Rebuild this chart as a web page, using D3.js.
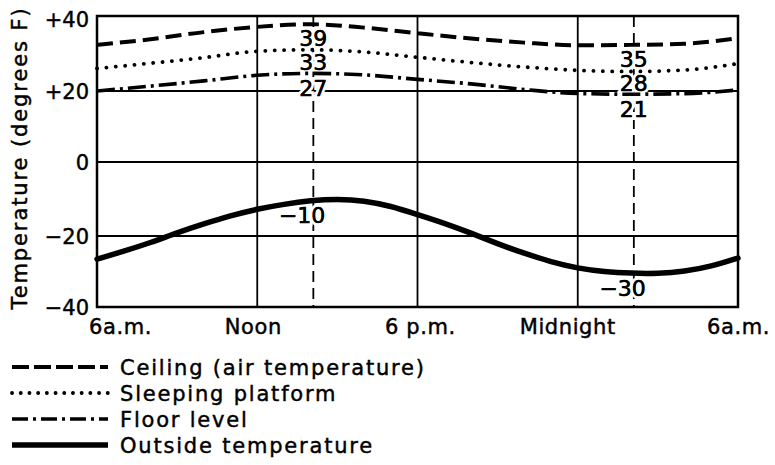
<!DOCTYPE html>
<html><head><meta charset="utf-8">
<script src="https://cdn.jsdelivr.net/npm/d3@7"></script>
<style>
body{margin:0;background:#fff}
svg{display:block}
text{font-family:"DejaVu Sans",sans-serif;fill:#000}
text.ink{stroke:#000;stroke-width:0.45px}
</style>
</head><body>
<svg id="c" width="775" height="465"></svg>
<script>
// ---- data ----
const hours2 = [0,2,4,6,8,10,12,14,16,18,20,22,24];
const ceiling = [32.3,33.8,35.7,37.1,37.8,36.9,35.4,34.0,32.9,32.2,32.3,32.6,34.1];
const sleeping = [26.0,27.4,28.9,30.6,31.0,30.4,29.0,27.6,26.4,25.5,25.2,25.6,27.3];
const floorLevel = [20.0,21.3,22.7,24.2,24.7,24.3,23.1,21.9,20.4,19.3,19.1,19.25,20.3];
const hours1 = [0,1,2,3,4,5,6,7,8,9,10,11,12,13,14,15,16,17,18,19,20,21,22,23,24];
const outside = [-26.5,-24.3,-21.9,-19.1,-16.7,-14.5,-12.7,-11.4,-10.4,-10.0,-10.4,-11.9,-14.2,-16.5,-19.2,-22.2,-24.9,-27.3,-29.1,-30.1,-30.5,-30.6,-30.0,-28.6,-26.2];
const xTicks = [0,6,12,18,24];
const xTickLabels = ["6a.m.","Noon","6 p.m.","Midnight","6a.m."];
const yTicks = [40,20,0,-20,-40];
const yTickLabels = ["+40","+20","0","\u221220","\u221240"];
const markHours = [8.1,20.1];
const markLabels = [["39","33","27","\u221210"],["35","28","21","\u221230"]];
const legendLabels = ["Ceiling (air temperature)","Sleeping platform","Floor level","Outside temperature"];
const yTitle = "Temperature (degrees F)";

// ---- drawing ----
const svg = d3.select("#c");
const x = d3.scaleLinear().domain([0,24]).range([97,738]);
const y = d3.scaleLinear().domain([-40,-20,0,20,40]).range([307,236,162,91,16]);

const series = [
  {t:hours2, v:ceiling,   curve:d3.curveMonotoneX, style:{w:4,   dash:"16 7",    cap:"butt"},  leg:{dash:"17 5", cap:"butt"}},
  {t:hours2, v:sleeping,  curve:d3.curveMonotoneX, style:{w:3.8, dash:"0.1 9.3", cap:"round"}, leg:{dash:"0.1 8.6", cap:"round"}},
  {t:hours2, v:floorLevel,curve:d3.curveMonotoneX, style:{w:3.6, dash:"18 5 3 5",cap:"butt"},  leg:{dash:"16 5 3 5", cap:"butt"}},
  {t:hours1, v:outside,   curve:d3.curveBasis,     style:{w:5.5, dash:null,      cap:"round"}, leg:{dash:null, cap:"butt"}}
];

// gridlines
const g = svg.append("g");
g.selectAll(".hg").data(yTicks.filter(d=>d!==40&&d!==-40)).join("line")
  .attr("x1",x(0)).attr("x2",x(24)).attr("y1",d=>y(d)).attr("y2",d=>y(d))
  .attr("stroke","#000").attr("stroke-width",1.8);
g.selectAll(".vg").data(xTicks.filter(d=>d!==0&&d!==24)).join("line")
  .attr("y1",y(40)).attr("y2",y(-40)).attr("x1",d=>x(d)).attr("x2",d=>x(d))
  .attr("stroke","#000").attr("stroke-width",1.8);

// dashed marker verticals
g.selectAll(".mk").data(markHours).join("line")
  .attr("x1",d=>x(d)).attr("x2",d=>x(d)).attr("y1",y(40)).attr("y2",y(-40))
  .attr("stroke","#000").attr("stroke-width",1.8).attr("stroke-dasharray","11 6");

// value labels (white halo cuts gridlines)
const rowOffset = [22,20,23,23];
markHours.forEach((h,i)=>{
  series.forEach((s,j)=>{
    const interp = d3.scaleLinear().domain(s.t).range(s.v);
    const yy = y(interp(h)) + rowOffset[j];
    const txt = markLabels[i][j];
    const neg = txt.startsWith("\u2212");
    svg.append("text")
      .attr("x", neg ? x(h)+12 : x(h))
      .attr("y", yy)
      .attr("text-anchor", neg ? "end" : "middle")
      .style("font-size","22px")
      .attr("stroke","#fff").attr("stroke-width",6).attr("paint-order","stroke")
      .text(txt);
    svg.append("text")
      .attr("class","ink")
      .attr("x", neg ? x(h)+12 : x(h))
      .attr("y", yy)
      .attr("text-anchor", neg ? "end" : "middle")
      .style("font-size","22px")
      .text(txt);
  });
});

// frame
svg.append("rect").attr("x",x(0)).attr("y",y(40)).attr("width",x(24)-x(0)).attr("height",y(-40)-y(40))
  .attr("fill","none").attr("stroke","#000").attr("stroke-width",2.5);

// curves
series.forEach(s=>{
  const line = d3.line().x((d,i)=>x(s.t[i])).y(d=>y(d)).curve(s.curve);
  svg.append("path").attr("d",line(s.v)).attr("fill","none").attr("stroke","#000")
    .attr("stroke-width",s.style.w).attr("stroke-linecap",s.style.cap)
    .attr("stroke-dasharray",s.style.dash);
});

// y tick labels
svg.selectAll(".yt").data(yTicks).join("text").attr("class","ink")
  .attr("x",89).attr("y",(d,i)=>y(d) + (i===0 ? 3 : 0)).attr("dy","0.36em").attr("text-anchor","end")
  .style("font-size","21px").text((d,i)=>yTickLabels[i]);

// x tick labels
const xNudge = [-8,-4,3,-10,0];
svg.selectAll(".xt").data(xTicks).join("text").attr("class","ink")
  .attr("x",(d,i)=> x(d) + xNudge[i])
  .attr("y",334)
  .attr("text-anchor",(d,i)=> i===0 ? "start" : (i===xTicks.length-1 ? "end" : "middle"))
  .attr("dx",(d,i)=> i===xTicks.length-1 ? 32 : 0)
  .style("font-size","21px").style("letter-spacing","0.6px")
  .text((d,i)=>xTickLabels[i]);

// y title
svg.append("text").attr("class","ink").attr("transform","translate(27,158) rotate(-90)")
  .attr("text-anchor","middle").style("font-size","21px").style("letter-spacing","1.9px")
  .text(yTitle);

// legend
const legY0 = 375, legStep = 26;
series.forEach((s,i)=>{
  const by = legY0 + i*legStep;
  svg.append("line").attr("x1",12).attr("x2",108).attr("y1",by-8).attr("y2",by-8)
    .attr("stroke","#000").attr("stroke-width",s.style.w)
    .attr("stroke-linecap",s.leg.cap).attr("stroke-dasharray",s.leg.dash);
  svg.append("text").attr("class","ink").attr("x",120).attr("y",by).style("font-size","21px")
    .style("letter-spacing","1.8px").text(legendLabels[i]);
});
</script>
</body></html>
